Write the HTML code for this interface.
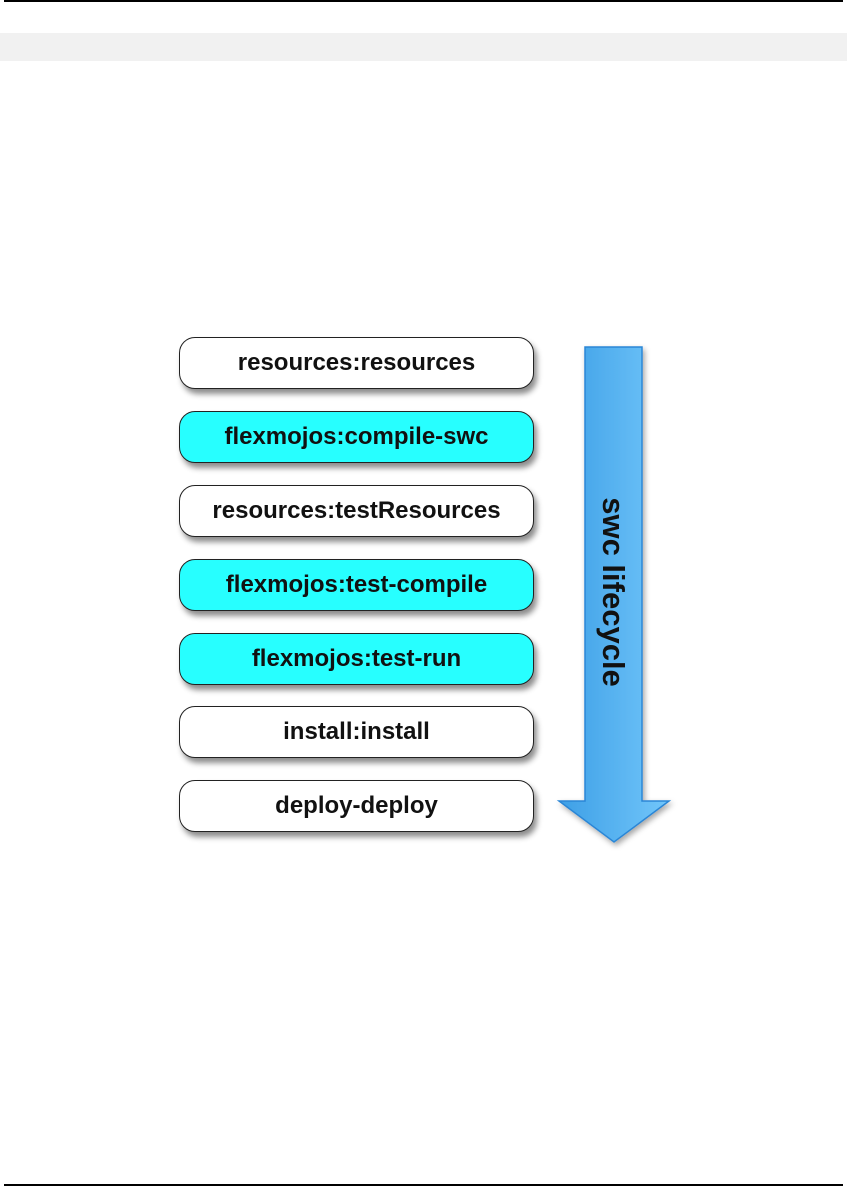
<!DOCTYPE html>
<html><head><meta charset="utf-8"><style>
body{margin:0;width:847px;height:1187px;background:#fff;position:relative;overflow:hidden;font-family:"Liberation Sans",Arial,sans-serif}
.l{position:absolute;left:4px;width:839px;height:2px;background:#000}
.b{position:absolute;left:179px;width:353px;height:50px;border:1.5px solid #222;border-radius:16px;background:#fff;box-shadow:3px 5px 6px rgba(0,0,0,.45);font-weight:bold;font-size:24px;letter-spacing:0;text-align:center;line-height:50px;color:#111}
.c{background:#27ffff}
</style></head><body>
<div class="l" style="top:0"></div>
<div style="position:absolute;left:0;top:33px;width:847px;height:28px;background:#f1f1f1"></div>
<div class="l" style="top:1184px"></div>
<div class="b" style="top:337px">resources:resources</div>
<div class="b c" style="top:411px">flexmojos:compile-swc</div>
<div class="b" style="top:485px">resources:testResources</div>
<div class="b c" style="top:559px">flexmojos:test-compile</div>
<div class="b c" style="top:633px">flexmojos:test-run</div>
<div class="b" style="top:706px">install:install</div>
<div class="b" style="top:780px">deploy-deploy</div>
<svg style="position:absolute;left:0;top:0" width="847" height="1187">
<defs><linearGradient id="g" x1="0" x2="1"><stop offset="0" stop-color="#3d9fe6"/><stop offset="1" stop-color="#72c6fa"/></linearGradient>
<filter id="s"><feDropShadow dx="2" dy="3" stdDeviation="3" flood-opacity="0.35"/></filter></defs>
<polygon points="585,347 642,347 642,801 669,801 614,842 559,801 585,801" fill="url(#g)" stroke="#2a86d6" stroke-width="1.5" filter="url(#s)"/>
<text x="0" y="0" transform="translate(603,592) rotate(90)" text-anchor="middle" font-family="Liberation Sans,Arial,sans-serif" font-weight="bold" font-size="31" fill="#111">swc lifecycle</text>
</svg>
</body></html>
